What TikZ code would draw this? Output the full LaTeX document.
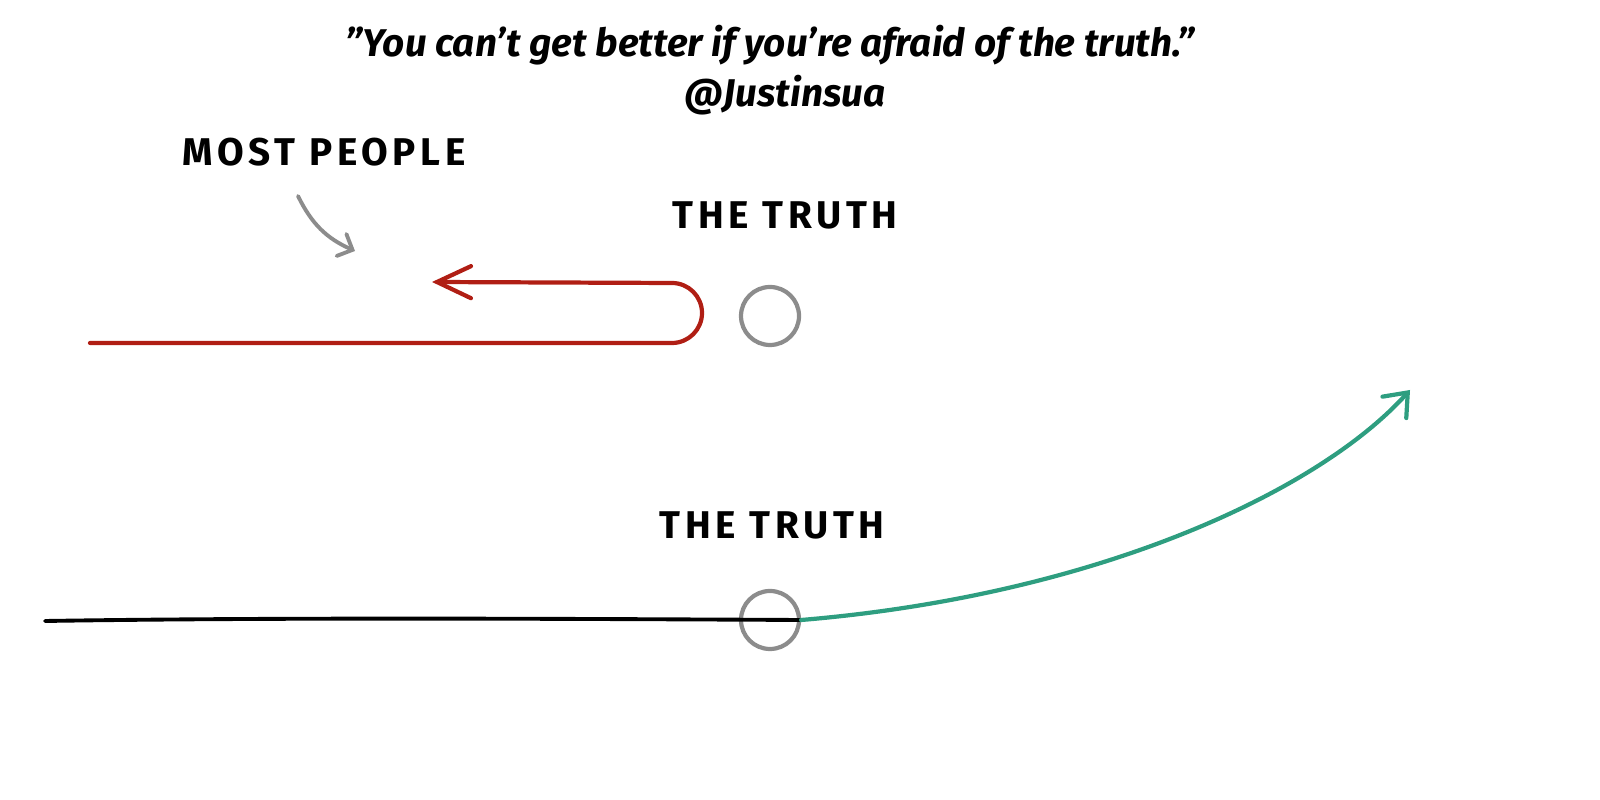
\documentclass[tikz,border=0pt]{standalone}
\usepackage{fontspec}
\setmainfont{Fira Sans}
\newfontfamily\capsfont[LetterSpace=12]{Fira Sans}
\usetikzlibrary{arrows.meta}
\definecolor{truthRed}{RGB}{176,30,20}
\definecolor{truthTeal}{RGB}{46,158,128}
\definecolor{truthGray}{RGB}{140,140,140}
\begin{document}
\begin{tikzpicture}[
		quoteText/.style={font=\fontsize{11}{13}\selectfont\bfseries\itshape, inner sep=0pt},
		capsLabel/.style={font=\fontsize{11}{13}\selectfont\capsfont\bfseries, inner sep=0pt},
		truthRing/.style={circle, draw=truthGray, line width=1.2pt, minimum size=0.58cm, inner sep=0pt},
		redLine/.style={draw=truthRed, line width=1.2pt, line cap=round, -{Straight Barb[length=3.4mm, width=3.2mm, line cap=round]}},
		tealLine/.style={draw=truthTeal, line width=1.2pt, line cap=round, -{Straight Barb[length=2mm, width=3.2mm, line cap=round]}},
		grayLine/.style={draw=truthGray, line width=1.1pt, line cap=round, -{Straight Barb[length=1.2mm, width=2.4mm, line cap=round]}}
	]
	\useasboundingbox (0,0) rectangle (16,8);

	\node[quoteText](quote)  at (7.70,7.55){"You can't get better if you're afraid of the truth."};
	\node[quoteText](author) at (7.85,7.05){@Justinsua};

	\node[capsLabel](mostPeople) at (3.24,6.48){MOST PEOPLE};
	\node[capsLabel](truthLabelA) at (7.85,5.85){THE TRUTH};
	\node[capsLabel](truthLabelB) at (7.72,2.75){THE TRUTH};

	\node[truthRing](truthA) at (7.70,4.84){};
	\node[truthRing](truthB) at (7.70,1.80){};

	\coordinate (pointerStart) at (2.98,6.04);
	\coordinate (pointerEnd)   at (3.55,5.49);
	\coordinate (redStart)     at (0.90,4.57);
	\coordinate (redTurn)      at (6.72,4.57);
	\coordinate (redEnd)       at (4.32,5.18);
	\coordinate (blackStart)   at (0.45,1.79);
	\coordinate (tealEnd)      at (14.10,4.10);

	% most people turn back before the truth
	\draw[grayLine] (pointerStart) to[bend right=20] (pointerEnd);
	\draw[redLine] (redStart) -- (redTurn) arc[start angle=-90, end angle=90, radius=0.30] -- (redEnd);

	% the others go through it
	\draw[line width=1.1pt, line cap=round] (blackStart) .. controls (3.00,1.83) and (6.00,1.81) .. (truthB.east);
	\draw[tealLine] (truthB.east) .. controls (11.00,2.05) and (13.20,3.10) .. (tealEnd);
\end{tikzpicture}
\end{document}
